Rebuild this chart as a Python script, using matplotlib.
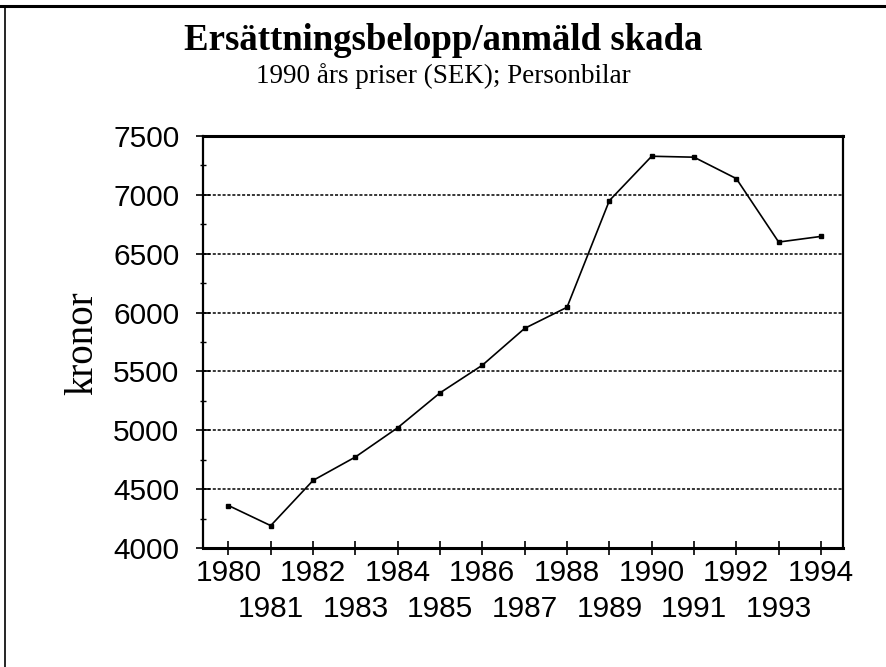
import matplotlib
matplotlib.use("Agg")
import matplotlib.pyplot as plt
import matplotlib.ticker as ticker
from matplotlib.lines import Line2D

# data
YEARS = list(range(1980, 1995))
KRONOR = [4361, 4190, 4574, 4773, 5022, 5318, 5553, 5866, 6045,
          6951, 7328, 7320, 7138, 6599, 6647]
Y_TICKS = [4000, 4500, 5000, 5500, 6000, 6500, 7000, 7500]

TITLE = "Ersättningsbelopp/anmäld skada"
SUBTITLE = "1990 års priser (SEK); Personbilar"
YLABEL = "kronor"

SERIF = ["Liberation Serif", "DejaVu Serif"]
SANS = ["Liberation Sans", "DejaVu Sans"]

fig = plt.figure(figsize=(8.87, 6.67), dpi=100)
ax = fig.add_axes([203 / 887, 1 - 548 / 667, (843 - 203) / 887, (548 - 136) / 667])

ax.plot(YEARS, KRONOR, color="black", lw=1.2, marker="s", ms=2.8,
        mfc="black", mec="black", zorder=3)

# dotted horizontal grid
for yv in Y_TICKS[1:-1]:
    ax.axhline(yv, color="black", lw=1.1, ls=(0, (2.0, 1.2)), zorder=1)

ax.set_xlim(1979.4, 1994.52)
ax.set_ylim(4000, 7500)

ax.yaxis.set_major_locator(ticker.FixedLocator(Y_TICKS))
ax.yaxis.set_minor_locator(ticker.MultipleLocator(250))
ax.xaxis.set_major_locator(ticker.FixedLocator(YEARS))
ax.xaxis.set_minor_locator(ticker.NullLocator())
ax.set_xticklabels([str(y) for y in YEARS])

ax.tick_params(axis="y", which="major", direction="inout", length=10, width=1.2,
               labelsize=21.5, pad=12)
ax.tick_params(axis="y", which="minor", direction="inout", length=5, width=1.0)
ax.tick_params(axis="x", which="major", direction="inout", length=10, width=1.2,
               labelsize=21.5, pad=3)
for lbl in ax.get_xticklabels() + ax.get_yticklabels():
    lbl.set_family(SANS)

# odd years sit on a second row
for yr, tick in zip(YEARS, ax.xaxis.get_major_ticks()):
    if yr % 2 == 1:
        tick.set_pad(29)

for name, sp in ax.spines.items():
    sp.set_color("black")
    sp.set_linewidth(2.2 if name in ("top", "bottom") else 1.6)

fig.text(0.5, 1 - 41 / 667, TITLE, ha="center", va="center",
         family=SERIF, weight="bold", fontsize=26.5)
fig.text(0.5, 1 - 76 / 667, SUBTITLE, ha="center", va="center",
         family=SERIF, fontsize=19.5)
fig.text(83 / 887, 1 - 343 / 667, YLABEL, ha="center", va="center",
         rotation=90, family=SERIF, fontsize=28)

# scanned page frame
fig.add_artist(Line2D([0, 1], [1 - 6 / 667, 1 - 6 / 667], color="black", lw=2.2,
                      transform=fig.transFigure))
fig.add_artist(Line2D([5 / 887, 5 / 887], [0, 1 - 6 / 667], color="black", lw=1.2,
                      transform=fig.transFigure))

fig.savefig("out.png", dpi=100)
